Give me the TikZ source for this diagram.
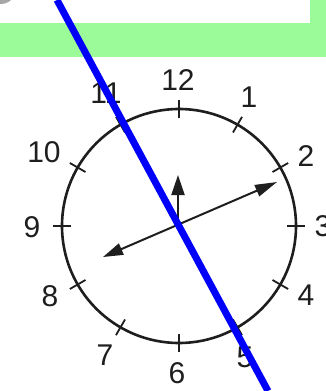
\documentclass[tikz,border=0pt]{standalone}
\usepackage{fontspec}
\setmainfont{Liberation Sans}
\usetikzlibrary{arrows.meta}
\definecolor{bandgreen}{RGB}{155,251,152}
\definecolor{ink}{RGB}{30,30,30}
\definecolor{lineblue}{RGB}{0,0,250}
\tikzset{
  num/.style={font=\fontsize{30}{30}\selectfont, text=ink, inner sep=0pt},
  rim/.style={draw=ink, line width=2.6pt},
  tick/.style={draw=ink, line width=1.8pt},
  hand/.style={draw=ink, line width=2pt},
  crossline/.style={draw=lineblue, line width=7pt}
}
\begin{document}
\begin{tikzpicture}[x=1pt,y=-1pt]
\useasboundingbox (0,0) rectangle (326,391);
\fill[white] (0,0) rectangle (326,391);
\fill[bandgreen] (0,0) rectangle (326,57);
\fill[white] (0,0) rectangle (310,23);
\fill[gray!70] (0,0) -- (11,0) .. controls (8,3) and (4,4) .. (0,4) -- cycle;
\coordinate (c) at (179,226);
\draw[rim] (c) circle[radius=117];
\foreach \h in {1,...,12}{
  \draw[tick] ({179+108*sin(\h*30)},{226-108*cos(\h*30)}) -- ({179+126*sin(\h*30)},{226-126*cos(\h*30)});
}
\node[num] (n12) at (178,80) {12};
\node[num] (n1) at (249,97) {1};
\node[num] (n2) at (306,156) {2};
\node[num] (n3) at (323,226) {3};
\node[num] (n4) at (306,295) {4};
\node[num] (n5) at (245,357) {5};
\node[num] (n6) at (177,373) {6};
\node[num] (n7) at (105,355) {7};
\node[num] (n8) at (50,296) {8};
\node[num] (n9) at (32,227) {9};
\node[num] (n10) at (44,152) {10};
\node[num] (n11) at (106,93) {11};
\coordinate (hup) at (178,175);
\coordinate (htip) at (277,182);
\coordinate (htail) at (103,257);
\draw[hand, -{Triangle[length=20pt,width=13pt]}] (178,226) -- (hup);
\draw[hand, {Triangle[length=20pt,width=12pt]}-{Triangle[length=22pt,width=12pt]}] (htail) -- (htip);
\coordinate (ltop) at (57,0);
\coordinate (lbot) at (268,391);
\draw[crossline] (ltop) -- (lbot);
\end{tikzpicture}
\end{document}
